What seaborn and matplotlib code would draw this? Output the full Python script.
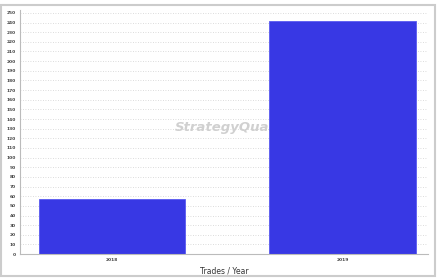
import matplotlib
matplotlib.use("Agg")
import matplotlib.pyplot as plt
import seaborn as sns
import pandas as pd

# Trades per year
years = ["2018", "2019"]
trades = [57, 242]

df = pd.DataFrame({"year": years, "trades": trades})

sns.set_style("white")
fig = plt.figure(figsize=(4.37, 2.78), dpi=100)
ax = fig.add_axes([0.046, 0.086, 0.933, 0.878])

# watermark behind the bars
ax.text(0.38, 0.52, "StrategyQuant", transform=ax.transAxes, ha="left", va="center",
        fontsize=9.5, fontweight="bold", fontstyle="italic", color="#d0d0d0", zorder=0)

sns.barplot(data=df, x="year", y="trades", color="#3838e4", saturation=1,
            width=0.635, ax=ax, zorder=2, edgecolor="#5a5af0", linewidth=0.6)

ax.set_ylim(0, 253)
ax.set_xlim(-0.4, 1.37)
ax.set_yticks(range(0, 251, 10))
ax.yaxis.grid(True, linestyle=(0, (1, 2)), color="#d0d0d0", linewidth=0.6, zorder=0)
ax.set_axisbelow(True)
ax.tick_params(axis="both", labelsize=3.2, length=1.5, width=0.4, colors="#444444", pad=1.5)
for lbl in ax.get_xticklabels() + ax.get_yticklabels():
    lbl.set_fontweight("bold")
ax.set_xlabel("Trades / Year", fontsize=5.5, color="#333333", labelpad=3)
ax.set_ylabel("")
for s in ["top", "right"]:
    ax.spines[s].set_visible(False)
for s in ["left", "bottom"]:
    ax.spines[s].set_color("#bbbbbb")
    ax.spines[s].set_linewidth(0.8)

# outer frame of the chart panel
frame = plt.Rectangle((0.002, 0.008), 0.993, 0.975, transform=fig.transFigure,
                      fill=False, edgecolor="#cccccc", linewidth=1.5)
fig.patches.append(frame)

fig.savefig("out.png", dpi=100)
